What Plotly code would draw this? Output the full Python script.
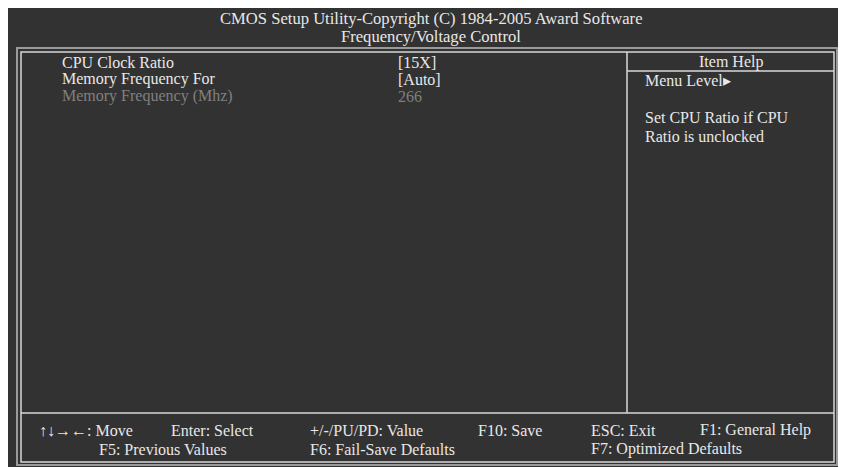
import plotly.graph_objects as go

# screen text
title_lines = ["CMOS Setup Utility-Copyright (C) 1984-2005 Award Software",
               "Frequency/Voltage Control"]
item_names = ["CPU Clock Ratio", "Memory Frequency For", "Memory Frequency (Mhz)"]
item_values = ["[15X]", "[Auto]", "266"]
item_enabled = [True, True, False]
help_title = "Item Help"
help_lines = ["Menu Level\u25B8", "", "Set CPU Ratio if CPU", "Ratio is unclocked"]
keys_row1 = ["\u2191\u2193\u2192\u2190: Move", "Enter: Select", "+/-/PU/PD: Value",
             "F10: Save", "ESC: Exit", "F1: General Help"]
keys_row2 = ["F5: Previous Values", "F6: Fail-Save Defaults", "F7: Optimized Defaults"]

W, H = 846, 467
O = 8  # page body margin; positions below are measured on the page
BG = "#323232"
FG = "#e8e8e8"
DIM = "#808080"
EDGE = "#d8d8d8"
FONT = "Liberation Serif"
FS = 16
RIGHT_IN, RIGHT_OUT = 834, 837  # page clips the last 8px on the right

fig = go.Figure()
fig.add_trace(go.Scatter(x=[0, W], y=[0, H], mode="markers",
                         marker=dict(opacity=0), hoverinfo="skip"))


def line(x0, y0, x1, y1, color=EDGE, width=1.5):
    fig.add_shape(type="line", x0=x0 - O, x1=x1 - O, y0=y0 - O, y1=y1 - O,
                  line=dict(color=color, width=width))


def box(x0, y0, x1, y1, color=EDGE, width=1.5):
    fig.add_shape(type="rect", x0=x0 - O, y0=y0 - O, x1=x1 - O, y1=y1 - O,
                  line=dict(color=color, width=width), fillcolor="rgba(0,0,0,0)")


def text(x, y, s, color=FG, anchor="left", size=FS):
    fig.add_annotation(x=x - O, y=y - O, text=s, showarrow=False, xanchor=anchor,
                       yanchor="middle", font=dict(family=FONT, size=size, color=color))


# double frame and dividers
box(17, 48, RIGHT_OUT, 465, "#9a9a9a", width=2)
line(RIGHT_OUT, 48, W + O, 48, "#9a9a9a", width=2)
box(21, 52, RIGHT_IN, 462)
line(627, 52, 627, 413)
line(627, 71, RIGHT_IN, 71)
line(21, 413, RIGHT_IN, 413)

# title
for i, s in enumerate(title_lines):
    text(431, 18 + i * 18, s, anchor="center", size=16.6)

# items
for i, (n, v, en) in enumerate(zip(item_names, item_values, item_enabled)):
    c = FG if en else DIM
    text(60, 62 + i * 17, n, c)
    text(396, 62 + i * 17, v, c)

# help panel
text(731, 62, help_title, anchor="center")
for y, s in zip([80, 99, 117, 136], help_lines):
    if s:
        text(643, y, s)

# key hints
for x, s in zip([37, 169, 308, 476, 589, 698], keys_row1):
    text(x, 430, s)
for x, s in zip([97, 308, 589], keys_row2):
    text(x, 449, s)

fig.update_layout(
    width=W, height=H,
    margin=dict(l=0, r=0, t=0, b=0),
    paper_bgcolor=BG, plot_bgcolor=BG,
    xaxis=dict(range=[0, W], visible=False, fixedrange=True),
    yaxis=dict(range=[H, 0], visible=False, fixedrange=True),
    showlegend=False,
)
fig.write_html("out.html")
